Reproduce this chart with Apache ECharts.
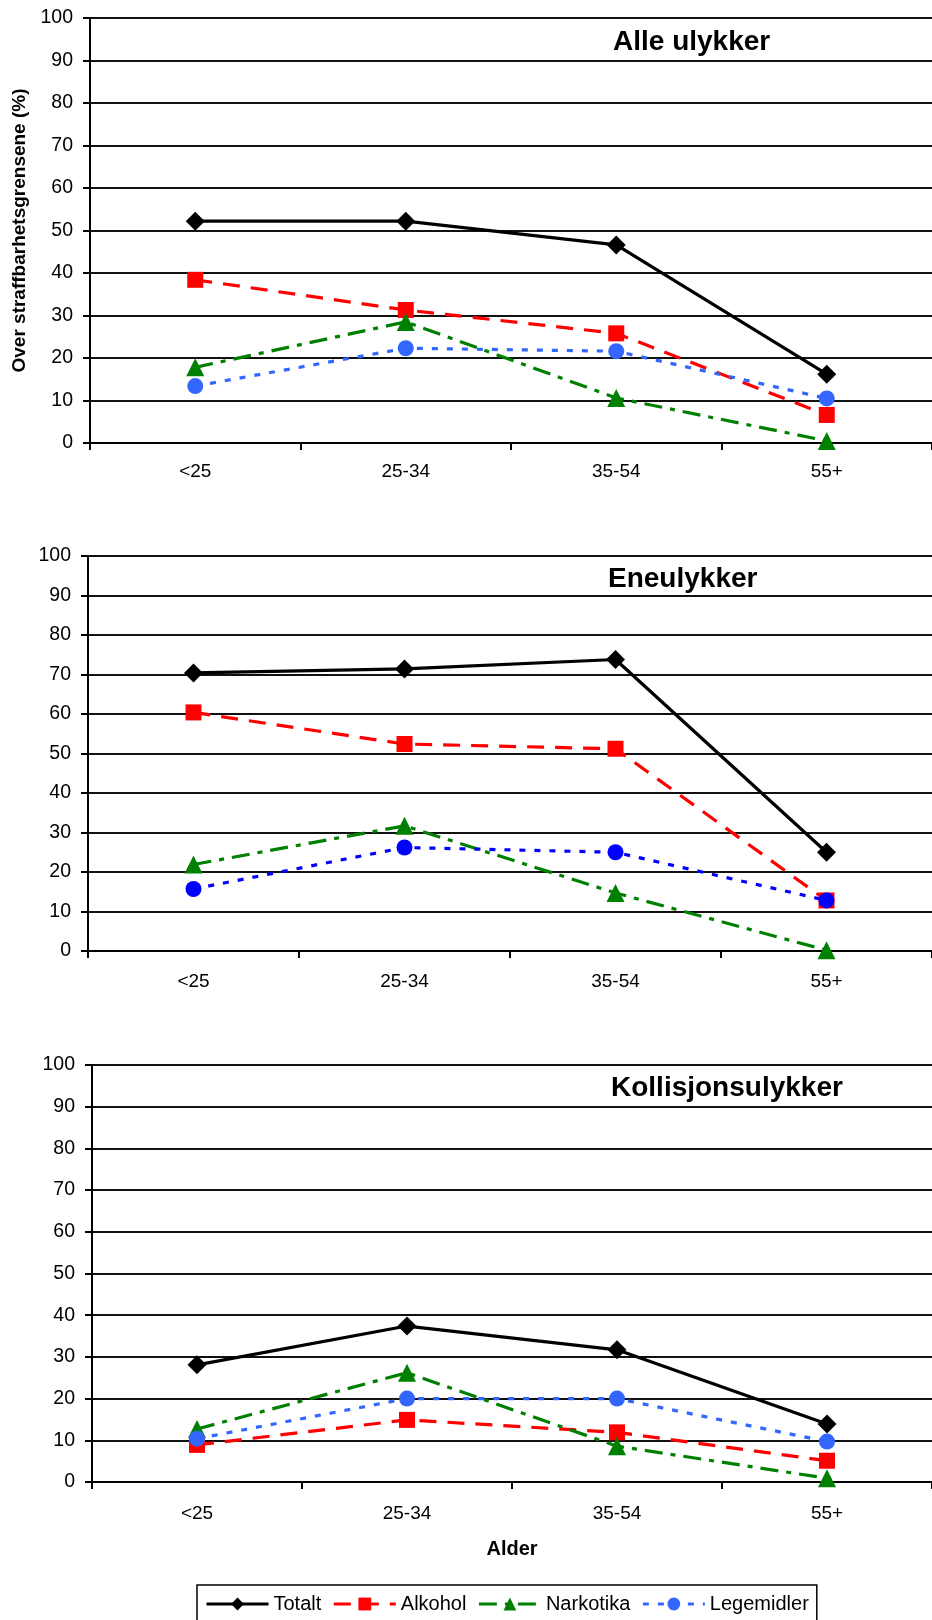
<!DOCTYPE html>
<html><head><meta charset="utf-8">
<script src="https://cdn.jsdelivr.net/npm/echarts@6/dist/echarts.min.js"></script>
<style>html,body{margin:0;padding:0;background:#fff}#c{width:932px;height:1620px}</style>
</head><body><div id="c"></div>
<script>
// ---- data ----
const categories = ['<25', '25-34', '35-54', '55+'];
const seriesNames = ['Totalt', 'Alkohol', 'Narkotika', 'Legemidler'];
const panelTitles = ['Alle ulykker', 'Eneulykker', 'Kollisjonsulykker'];
const yAxisTitle = 'Over straffbarhetsgrensene (%)';
const xAxisTitle = 'Alder';

const alleTotalt     = [52.2, 52.2, 46.6, 16.2];
const alleAlkohol    = [38.4, 31.3, 25.8, 6.6];
const alleNarkotika  = [17.8, 28.5, 10.6, 0.5];
const alleLegemidler = [13.4, 22.3, 21.6, 10.5];

const eneTotalt      = [70.4, 71.4, 73.8, 25.0];
const eneAlkohol     = [60.4, 52.4, 51.2, 12.8];
const eneNarkotika   = [21.9, 31.7, 14.7, 0.2];
const eneLegemidler  = [15.7, 26.2, 25.0, 12.8];

const kolTotalt      = [28.1, 37.4, 31.7, 13.9];
const kolAlkohol     = [8.9, 14.9, 11.9, 5.1];
const kolNarkotika   = [12.7, 26.2, 8.6, 0.9];
const kolLegemidler  = [10.4, 20.0, 20.0, 9.7];

const panels = [
  [alleTotalt, alleAlkohol, alleNarkotika, alleLegemidler],
  [eneTotalt, eneAlkohol, eneNarkotika, eneLegemidler],
  [kolTotalt, kolAlkohol, kolNarkotika, kolLegemidler]
];

// ---- styles ----
const FONT = 'Liberation Sans, Arial, sans-serif';
const gridBoxes = [
  {left: 90, right: -5, top: 18, height: 425},
  {left: 88, right: -6, top: 556, height: 395},
  {left: 92, right: -5, top: 1065, height: 417}
];
const titlePos = [{left: 613, top: 28}, {left: 608, top: 565.5}, {left: 611, top: 1074.5}];
const xLabelMargin = [19, 21, 22];
const legemidlerColors = ['#3366ff', '#0000ff', '#3366ff'];
const seriesStyle = [
  {color: '#000000', symbol: 'diamond', size: 19, width: 3.2, type: 'solid'},
  {color: '#ff0000', symbol: 'rect', size: 16, width: 3.2, type: [17, 11]},
  {color: '#008000', symbol: 'triangle', size: 18, width: 3.2, type: [18, 8, 5, 8]},
  {color: null, symbol: 'circle', size: 16, width: 3.2, type: [6, 9]}
];

const grid = [], xAxis = [], yAxis = [], series = [], title = [];
panels.forEach((panel, p) => {
  grid.push(Object.assign({}, gridBoxes[p]));
  title.push({
    text: panelTitles[p], left: titlePos[p].left, top: titlePos[p].top, padding: 0,
    textStyle: {fontFamily: FONT, fontSize: 28, fontWeight: 'bold', color: '#000', lineHeight: 28}
  });
  xAxis.push({
    type: 'category', gridIndex: p, data: categories, boundaryGap: true,
    axisLine: {show: true, lineStyle: {color: '#000', width: 2}},
    axisTick: {show: true, length: 7, interval: 0, lineStyle: {color: '#000', width: 2}},
    axisLabel: {margin: xLabelMargin[p], fontFamily: FONT, fontSize: 19, color: '#000', lineHeight: 19, interval: 0},
    splitLine: {show: false},
    name: p === 2 ? xAxisTitle : '', nameLocation: 'middle', nameGap: 57,
    nameTextStyle: {fontFamily: FONT, fontSize: 20, fontWeight: 'bold', color: '#000', lineHeight: 20}
  });
  yAxis.push({
    type: 'value', gridIndex: p, min: 0, max: 100, interval: 10,
    axisLine: {show: true, lineStyle: {color: '#000', width: 2}},
    axisTick: {show: true, length: 7, lineStyle: {color: '#000', width: 2}},
    axisLabel: {margin: 17, fontFamily: FONT, fontSize: 19.5, color: '#000'},
    splitLine: {show: true, lineStyle: {color: '#111', width: 2}},
    name: p === 0 ? yAxisTitle : '', nameLocation: 'middle', nameGap: 60,
    nameTextStyle: {fontFamily: FONT, fontSize: 19, fontWeight: 'bold', color: '#000'}
  });
  panel.forEach((vals, s) => {
    const st = seriesStyle[s];
    const color = st.color || legemidlerColors[p];
    series.push({
      type: 'line', name: seriesNames[s], xAxisIndex: p, yAxisIndex: p,
      data: vals, symbol: st.symbol, symbolSize: st.size, showAllSymbol: true,
      itemStyle: {color: color},
      lineStyle: {color: color, width: st.width, type: st.type},
      emphasis: {disabled: true}, z: 2 + s
    });
  });
});

const chart = echarts.init(document.getElementById('c'), null, {renderer: 'canvas'});
chart.setOption({
  animation: false,
  backgroundColor: '#fff',
  title: title,
  grid: grid, xAxis: xAxis, yAxis: yAxis, series: series,
  legend: {
    data: seriesNames, left: 197, top: 1585, orient: 'horizontal',
    padding: [8, 8, 8, 8], itemWidth: 62, itemHeight: 16, itemGap: 11,
    borderColor: '#000', borderWidth: 1.5,
    lineStyle: {width: 3},
    textStyle: {fontFamily: FONT, fontSize: 20, color: '#000', lineHeight: 22}
  }
});
</script></body></html>
